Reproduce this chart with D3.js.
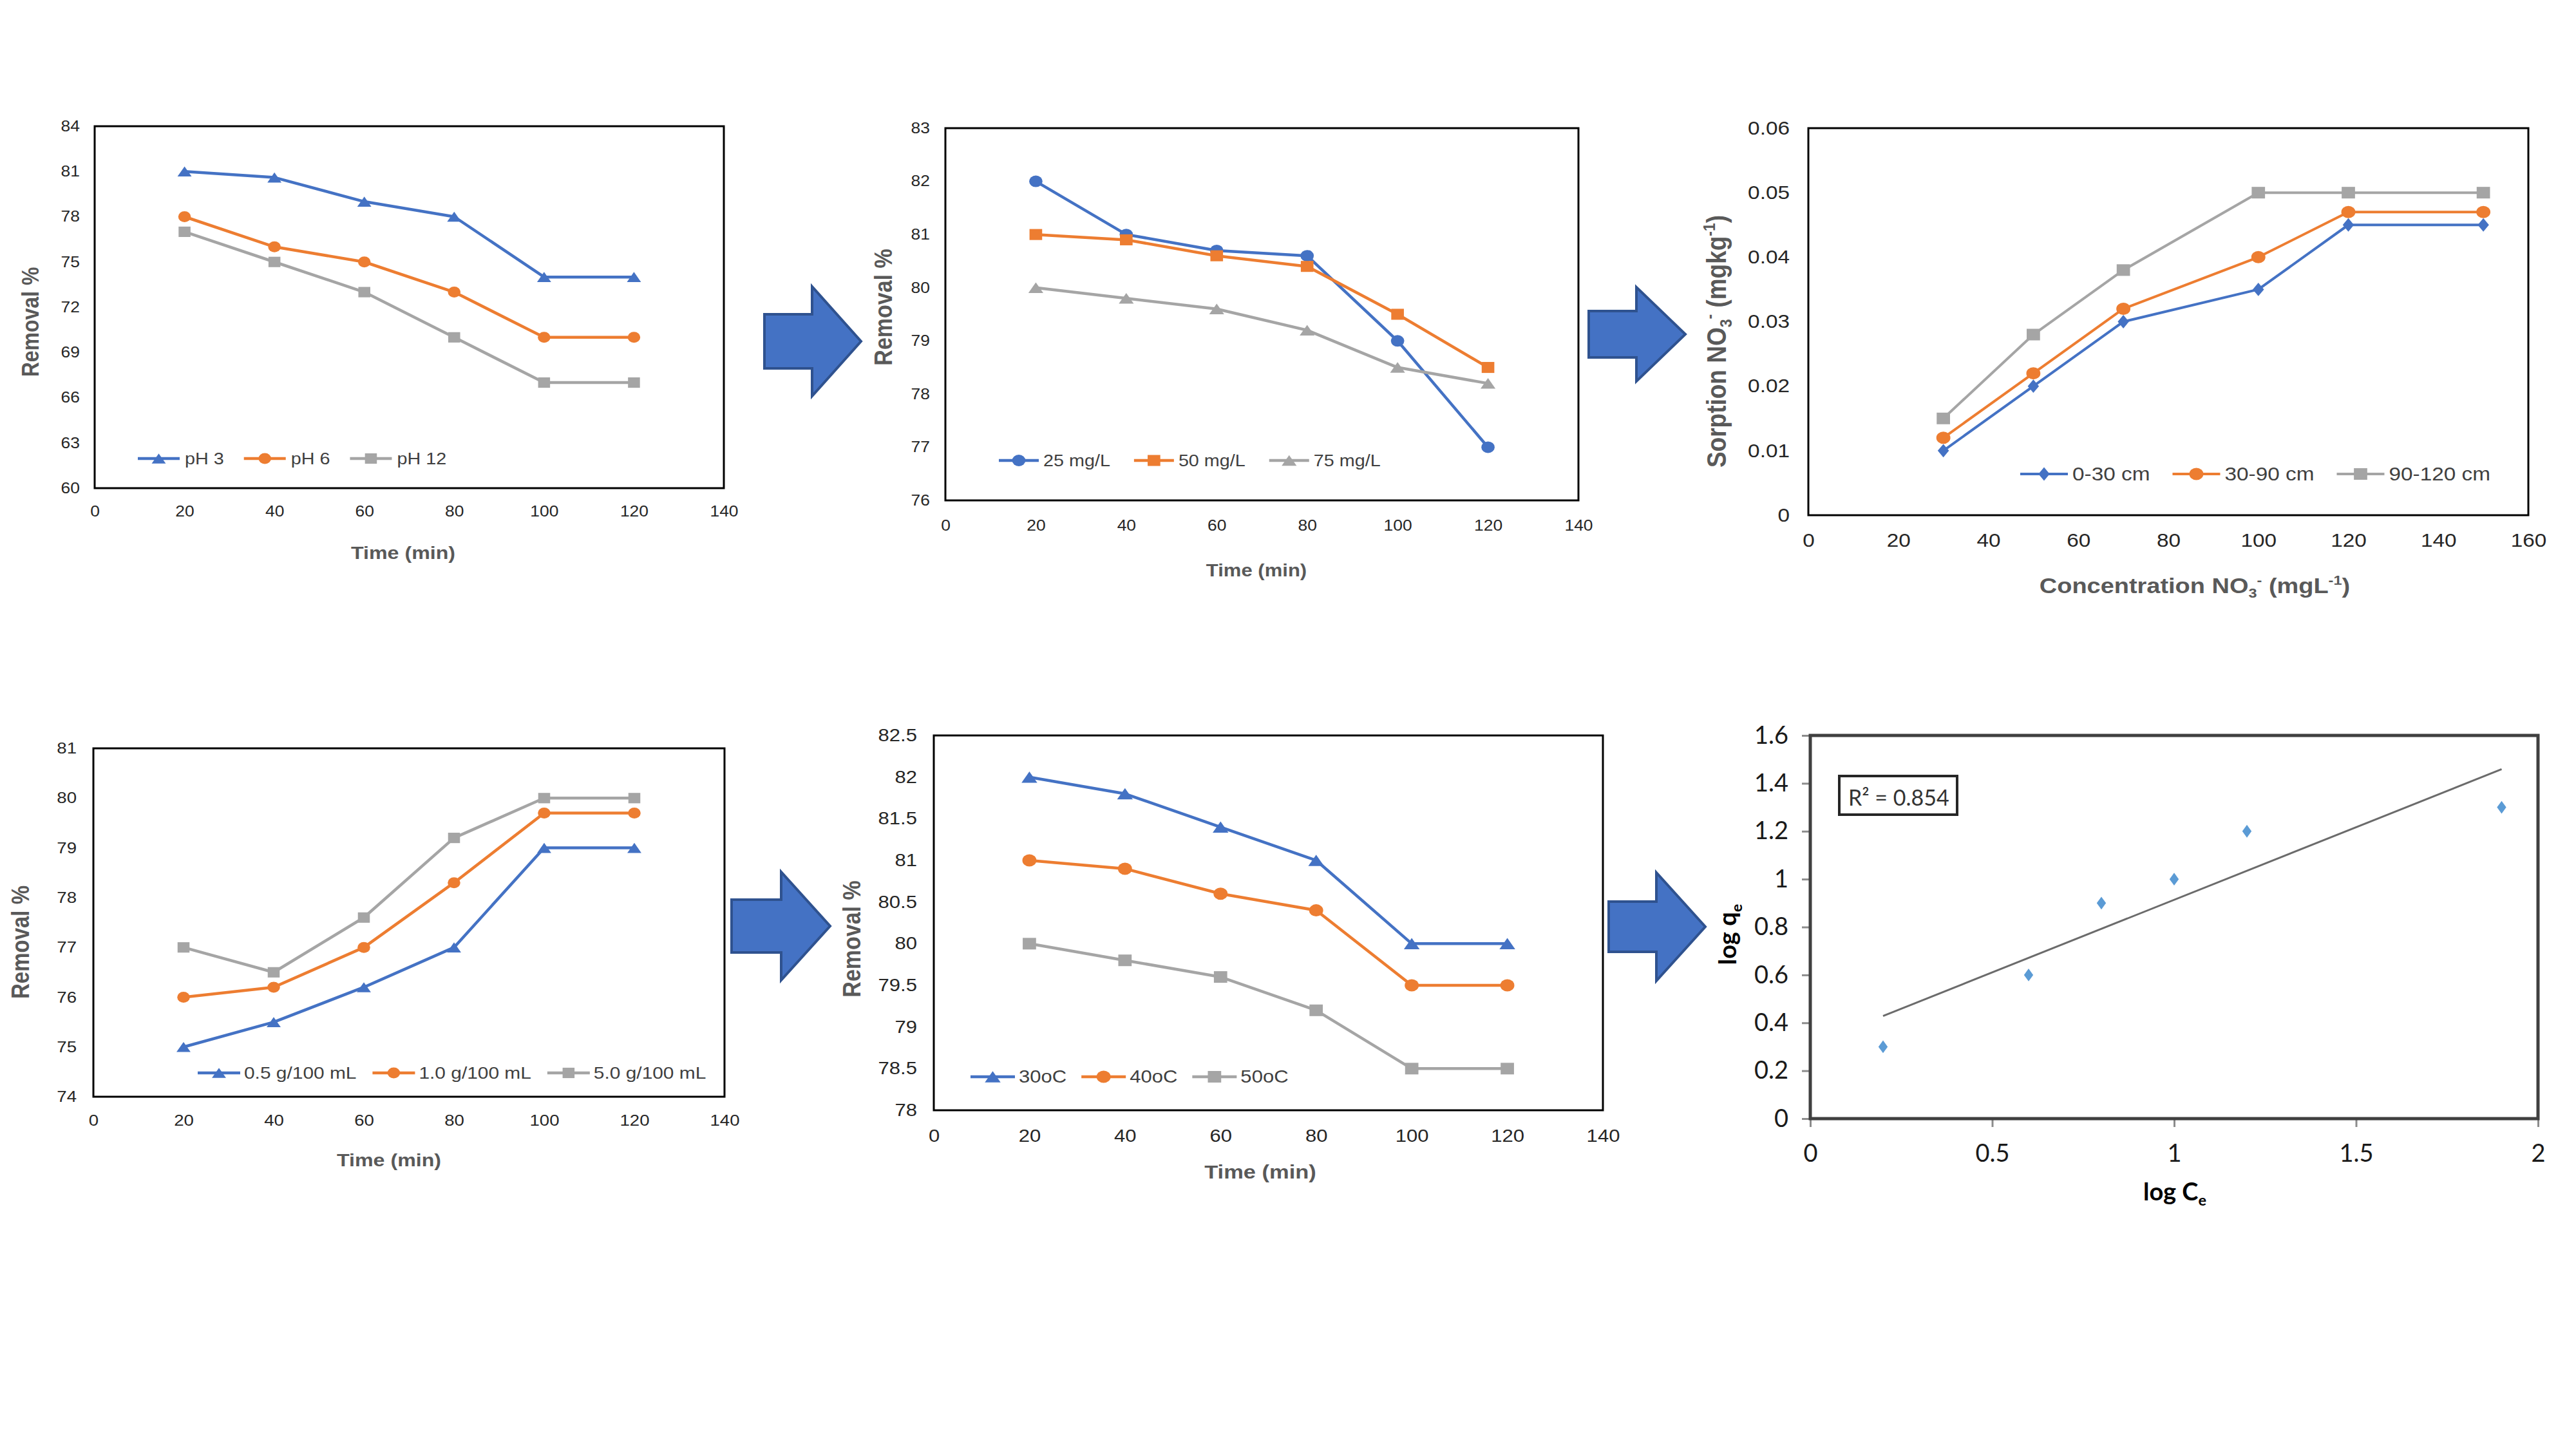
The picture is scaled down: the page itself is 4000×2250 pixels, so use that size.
<!DOCTYPE html>
<html>
<head>
<meta charset="utf-8">
<script src="https://cdn.jsdelivr.net/npm/d3@7"></script>
<style>
  body { margin: 0; background: #fff; }
  svg { display: block; }
</style>
</head>
<body>
<div class="holder"></div>
<script>
// sampling times shared by the four kinetic panels
const timeMin = [20, 40, 60, 80, 100, 120]
const timeTicks = [0, 20, 40, 60, 80, 100, 120, 140]

// effect of pH
const phNames = ["pH 3", "pH 6", "pH 12"]
const ph3 = [81, 80.6, 79, 78, 74, 74]
const ph6 = [78, 76, 75, 73, 70, 70]
const ph12 = [77, 75, 73, 70, 67, 67]
const phTicks = [60, 63, 66, 69, 72, 75, 78, 81, 84]

// effect of initial concentration
const concNames = ["25 mg/L", "50 mg/L", "75 mg/L"]
const conc25 = [82, 81, 80.7, 80.6, 79, 77]
const conc50 = [81, 80.9, 80.6, 80.4, 79.5, 78.5]
const conc75 = [80, 79.8, 79.6, 79.2, 78.5, 78.2]
const concTicks = [76, 77, 78, 79, 80, 81, 82, 83]

// sorption against nitrate concentration, by soil depth
const depthConc = [30, 50, 70, 100, 120, 150]
const depthNames = ["0-30 cm", "30-90 cm", "90-120 cm"]
const depth0_30 = [0.010, 0.020, 0.030, 0.035, 0.045, 0.045]
const depth30_90 = [0.012, 0.022, 0.032, 0.040, 0.047, 0.047]
const depth90_120 = [0.015, 0.028, 0.038, 0.050, 0.050, 0.050]
const depthXTicks = [0, 20, 40, 60, 80, 100, 120, 140, 160]
const depthYTicks = [0, 0.01, 0.02, 0.03, 0.04, 0.05, 0.06]

// effect of dose
const doseNames = ["0.5 g/100 mL", "1.0 g/100 mL", "5.0 g/100 mL"]
const dose05 = [75, 75.5, 76.2, 77, 79, 79]
const dose10 = [76, 76.2, 77, 78.3, 79.7, 79.7]
const dose50 = [77, 76.5, 77.6, 79.2, 80, 80]
const doseTicks = [74, 75, 76, 77, 78, 79, 80, 81]

// effect of temperature
const tempNames = ["30oC", "40oC", "50oC"]
const temp30 = [82, 81.8, 81.4, 81, 80, 80]
const temp40 = [81, 80.9, 80.6, 80.4, 79.5, 79.5]
const temp50 = [80, 79.8, 79.6, 79.2, 78.5, 78.5]
const tempTicks = [78, 78.5, 79, 79.5, 80, 80.5, 81, 81.5, 82, 82.5]

// Freundlich isotherm
const logCe = [0.2, 0.6, 0.8, 1.0, 1.2, 1.9]
const logQe = [0.3, 0.6, 0.9, 1.0, 1.2, 1.3]
const logCeTicks = [0, 0.5, 1, 1.5, 2]
const logQeTicks = [0, 0.2, 0.4, 0.6, 0.8, 1, 1.2, 1.4, 1.6]
const r2Label = "R\u00B2 = 0.854"

const seriesColors = ["#4472C4", "#ED7D31", "#A5A5A5"]
const sans = "'Liberation Sans', Arial, sans-serif"
const lato = "Lato, Carlito, 'Open Sans', sans-serif"

var svg = d3.select(".holder").append("svg")
    .attr("width", 4000)
    .attr("height", 2250)
    .style("background", "#fff")

// the excel charts were pasted a bit wider than drawn, so text and markers get stretched in x
var panels = [
    { frame: [147, 1124, 196, 758], x: timeMin, xDomain: [0, 140], xTicks: timeTicks,
      yDomain: [60, 84], yTicks: phTicks, series: [ph3, ph6, ph12], names: phNames,
      markers: ["triangle", "circle", "square"], ms: 17, lw: 4.5, sx: 1.15,
      tickSize: 23, yPad: 23, xBase: 44,
      yTitle: { parts: ["Removal %"], x: 47, y: 500, size: 32 },
      xTitle: { parts: ["Time (min)"], x: 626, y: 868, size: 28 },
      legend: { x: 214, y: 712, size: 25, line: 65, pad: 8, gap: 31 } },
    { frame: [1468, 2451, 199, 777], x: timeMin, xDomain: [0, 140], xTicks: timeTicks,
      yDomain: [76, 83], yTicks: concTicks, series: [conc25, conc50, conc75], names: concNames,
      markers: ["circle", "square", "triangle"], ms: 18, lw: 4.5, sx: 1.15,
      tickSize: 23, yPad: 24, xBase: 47,
      yTitle: { parts: ["Removal %"], x: 1371, y: 477, size: 34 },
      xTitle: { parts: ["Time (min)"], x: 1951, y: 895, size: 27 },
      legend: { x: 1551, y: 715, size: 25, line: 62, pad: 7, gap: 37 } },
    { frame: [2808, 3926, 199, 800], x: depthConc, xDomain: [0, 160], xTicks: depthXTicks,
      yDomain: [0, 0.06], yTicks: depthYTicks, series: [depth0_30, depth30_90, depth90_120], names: depthNames,
      markers: ["diamond", "circle", "square"], ms: 19, lw: 4, sx: 1.15,
      tickSize: 29, yPad: 29, xBase: 49,
      yTitle: { parts: ["Sorption NO", { t: "3", sub: true }, { t: "-", sup: true }, " (mgkg", { t: "-1", sup: true }, ")"],
                x: 2665, y: 530, size: 37 },
      xTitle: { parts: ["Concentration NO", { t: "3", sub: true }, { t: "-", sup: true }, " (mgL", { t: "-1", sup: true }, ")"],
                x: 3408, y: 921, size: 33 },
      legend: { x: 3137, y: 736, size: 29, line: 74, pad: 7, gap: 35 } },
    { frame: [145, 1125, 1162, 1703], x: timeMin, xDomain: [0, 140], xTicks: timeTicks,
      yDomain: [74, 81], yTicks: doseTicks, series: [dose05, dose10, dose50], names: doseNames,
      markers: ["triangle", "circle", "square"], ms: 17, lw: 4.5, sx: 1.15,
      tickSize: 24, yPad: 26, xBase: 45,
      yTitle: { parts: ["Removal %"], x: 32, y: 1463, size: 33 },
      xTitle: { parts: ["Time (min)"], x: 604, y: 1811, size: 28 },
      legend: { x: 307, y: 1666, size: 26, line: 66, pad: 6, gap: 25 } },
    { frame: [1450, 2489, 1142, 1724], x: timeMin, xDomain: [0, 140], xTicks: timeTicks,
      yDomain: [78, 82.5], yTicks: tempTicks, series: [temp30, temp40, temp50], names: tempNames,
      markers: ["triangle", "circle", "square"], ms: 19, lw: 4.5, sx: 1.15,
      tickSize: 27, yPad: 26, xBase: 49,
      yTitle: { parts: ["Removal %"], x: 1322, y: 1458, size: 34 },
      xTitle: { parts: ["Time (min)"], x: 1957, y: 1830, size: 30 },
      legend: { x: 1507, y: 1672, size: 27, line: 69, pad: 6, gap: 23 } }
]

// blue block arrows between the panels
var arrows = [
    { x0: 1187, x1: 1337, cy: 530, h: 170, body: 84, head: 76 },
    { x0: 2467, x1: 2617, cy: 519, h: 146, body: 72, head: 76 },
    { x0: 1136, x1: 1289, cy: 1438, h: 168, body: 82, head: 76 },
    { x0: 2498, x1: 2648, cy: 1439, h: 168, body: 78, head: 76 }
]

var triangleType = {
    draw: function(ctx, size) {
        var s = Math.sqrt(size), h = s * 0.46, w = s * 0.56
        ctx.moveTo(0, -h); ctx.lineTo(w, h); ctx.lineTo(-w, h); ctx.closePath()
    }
}
var diamondType = {
    draw: function(ctx, size) {
        var s = Math.sqrt(size) / 2
        ctx.moveTo(0, -s * 1.1); ctx.lineTo(s * 0.8, 0); ctx.lineTo(0, s * 1.1); ctx.lineTo(-s * 0.8, 0); ctx.closePath()
    }
}

function marker(kind, d) {
    if (kind == "circle") return d3.symbol(d3.symbolCircle, Math.PI * d * d / 4)()
    if (kind == "square") return d3.symbol(d3.symbolSquare, d * d * 0.9)()
    if (kind == "diamond") return d3.symbol(diamondType, d * d)()
    return d3.symbol(triangleType, d * d)()
}

// text with optional sub/superscript pieces
function addLabel(parent, x, y, parts, o) {
    var tr = "translate(" + x + "," + y + ") scale(" + (o.sx || 1) + ",1)"
    if (o.rotate) tr += " rotate(" + o.rotate + ")"
    if (o.vc) tr += " translate(0," + (0.35 * o.size) + ")"
    var t = parent.append("text")
        .attr("transform", tr)
        .attr("text-anchor", o.anchor || "middle")
        .attr("font-family", o.family)
        .attr("font-size", o.size)
        .attr("font-weight", o.weight || "normal")
        .attr("fill", o.color)
    var off = 0
    parts.forEach(function(p) {
        var seg = typeof p === "string" ? { t: p } : p
        var target = seg.sub ? 0.22 * o.size : seg.sup ? -0.4 * o.size : 0
        t.append("tspan")
            .attr("dy", target - off)
            .attr("font-size", seg.sub || seg.sup ? o.size * 0.62 : o.size)
            .text(seg.t)
        off = target
    })
    return t
}

function drawLinePanel(p) {
    var g = svg.append("g")
    var f = p.frame
    var x = d3.scaleLinear().domain(p.xDomain).range([f[0], f[1]])
    var y = d3.scaleLinear().domain(p.yDomain).range([f[3], f[2]])

    var ya = g.append("g")
        .attr("transform", "translate(" + f[0] + ",0)")
        .call(d3.axisLeft(y).tickValues(p.yTicks).tickSize(0).tickPadding(p.yPad).tickFormat(d3.format("~g")))
    ya.select(".domain").remove()
    ya.attr("font-family", sans).attr("font-size", p.tickSize)
    ya.selectAll("text")
        .attr("fill", "#262626")
        .attr("x", -p.yPad / p.sx)
        .attr("transform", "scale(" + p.sx + ",1)")

    var xa = g.append("g")
        .attr("transform", "translate(0," + f[3] + ")")
        .call(d3.axisBottom(x).tickValues(p.xTicks).tickSize(0).tickPadding(p.xBase - 0.71 * p.tickSize).tickFormat(d3.format("~g")))
    xa.select(".domain").remove()
    xa.attr("font-family", sans).attr("font-size", p.tickSize)
    xa.selectAll("text")
        .attr("fill", "#262626")
        .attr("transform", "scale(" + p.sx + ",1)")

    g.append("rect")
        .attr("x", f[0]).attr("y", f[2])
        .attr("width", f[1] - f[0]).attr("height", f[3] - f[2])
        .attr("fill", "none").attr("stroke", "#000").attr("stroke-width", 3)

    p.series.forEach(function(vals, i) {
        var pts = p.x.map(function(xv, j) { return [x(xv), y(vals[j])] })
        g.append("path")
            .attr("d", d3.line()(pts))
            .attr("fill", "none")
            .attr("stroke", seriesColors[i])
            .attr("stroke-width", p.lw)
            .attr("stroke-linejoin", "round")
        g.selectAll(null)
            .data(pts).enter()
            .append("path")
            .attr("transform", function(d) { return "translate(" + d[0] + "," + d[1] + ") scale(" + p.sx + ",1)" })
            .attr("d", marker(p.markers[i], p.ms))
            .attr("fill", seriesColors[i])
    })

    // legend inside the plot area
    var L = p.legend
    var cx = L.x
    p.names.forEach(function(name, i) {
        g.append("line")
            .attr("x1", cx).attr("x2", cx + L.line)
            .attr("y1", L.y).attr("y2", L.y)
            .attr("stroke", seriesColors[i]).attr("stroke-width", p.lw)
        g.append("path")
            .attr("transform", "translate(" + (cx + L.line / 2) + "," + L.y + ") scale(" + p.sx + ",1)")
            .attr("d", marker(p.markers[i], p.ms))
            .attr("fill", seriesColors[i])
        var t = addLabel(g, cx + L.line + L.pad, L.y, [name],
            { size: L.size, family: sans, color: "#404040", anchor: "start", vc: true, sx: p.sx })
        cx += L.line + L.pad + t.node().getComputedTextLength() * p.sx + L.gap
    })

    addLabel(g, p.yTitle.x, p.yTitle.y, p.yTitle.parts,
        { size: p.yTitle.size, family: sans, color: "#595959", weight: "bold", rotate: -90, vc: true, sx: p.sx })
    addLabel(g, p.xTitle.x, p.xTitle.y, p.xTitle.parts,
        { size: p.xTitle.size, family: sans, color: "#595959", weight: "bold", sx: p.sx })
}

function drawIsotherm() {
    var g = svg.append("g")
    var f = [2811, 3941, 1142, 1737]
    var x = d3.scaleLinear().domain([0, 2]).range([f[0], f[1]])
    var y = d3.scaleLinear().domain([0, 1.6]).range([f[3], f[2]])

    var ya = g.append("g")
        .attr("transform", "translate(" + f[0] + ",0)")
        .call(d3.axisLeft(y).tickValues(logQeTicks).tickSizeInner(13).tickSizeOuter(0).tickPadding(21).tickFormat(d3.format("~g")))
    var xa = g.append("g")
        .attr("transform", "translate(0," + f[3] + ")")
        .call(d3.axisBottom(x).tickValues(logCeTicks).tickSizeInner(13).tickSizeOuter(0).tickPadding(67 - 13 - 0.71 * 38).tickFormat(d3.format("~g")))
    ;[ya, xa].forEach(function(a) {
        a.select(".domain").remove()
        a.attr("font-family", lato).attr("font-size", 38)
        a.selectAll("line").attr("stroke", "#8c8c8c").attr("stroke-width", 3)
        a.selectAll("text").attr("fill", "#1a1a1a")
    })

    g.append("rect")
        .attr("x", f[0]).attr("y", f[2])
        .attr("width", f[1] - f[0]).attr("height", f[3] - f[2])
        .attr("fill", "none").attr("stroke", "#404040").attr("stroke-width", 5)

    // least squares trend line through the points
    var mx = d3.mean(logCe), my = d3.mean(logQe)
    var sxy = d3.sum(logCe, function(v, i) { return (v - mx) * (logQe[i] - my) })
    var sxx = d3.sum(logCe, function(v) { return (v - mx) * (v - mx) })
    var slope = sxy / sxx, icpt = my - slope * mx
    var ext = d3.extent(logCe)
    g.append("path")
        .attr("d", d3.line()(ext.map(function(v) { return [x(v), y(icpt + slope * v)] })))
        .attr("stroke", "#6b6b6b").attr("stroke-width", 3).attr("fill", "none")

    g.selectAll(null)
        .data(logCe).enter()
        .append("path")
        .attr("transform", function(d, i) { return "translate(" + x(d) + "," + y(logQe[i]) + ")" })
        .attr("d", marker("diamond", 18))
        .attr("fill", "#5B9BD5")

    g.append("rect")
        .attr("x", 2856).attr("y", 1205).attr("width", 183).attr("height", 60)
        .attr("fill", "#fff").attr("stroke", "#262626").attr("stroke-width", 4)
    addLabel(g, 2870, 1251, [r2Label], { size: 34, family: lato, color: "#333", anchor: "start" })

    addLabel(g, 2683, 1451, ["log q", { t: "e", sub: true }],
        { size: 38, family: lato, color: "#000", weight: "bold", rotate: -90, vc: true })
    addLabel(g, 3377, 1864, ["log C", { t: "e", sub: true }],
        { size: 38, family: lato, color: "#000", weight: "bold" })
}

function drawArrow(a) {
    var top = a.cy - a.h / 2, bot = a.cy + a.h / 2
    var bt = a.cy - a.body / 2, bb = a.cy + a.body / 2
    var hx = a.x1 - a.head
    var pts = [[a.x0, bt], [hx, bt], [hx, top], [a.x1, a.cy], [hx, bot], [hx, bb], [a.x0, bb]]
    svg.append("path")
        .attr("d", d3.line()(pts) + "Z")
        .attr("fill", "#4472C4")
        .attr("stroke", "#2F528F")
        .attr("stroke-width", 4)
        .attr("stroke-linejoin", "miter")
}

panels.forEach(drawLinePanel)
drawIsotherm()
arrows.forEach(drawArrow)
</script>
</body>
</html>
